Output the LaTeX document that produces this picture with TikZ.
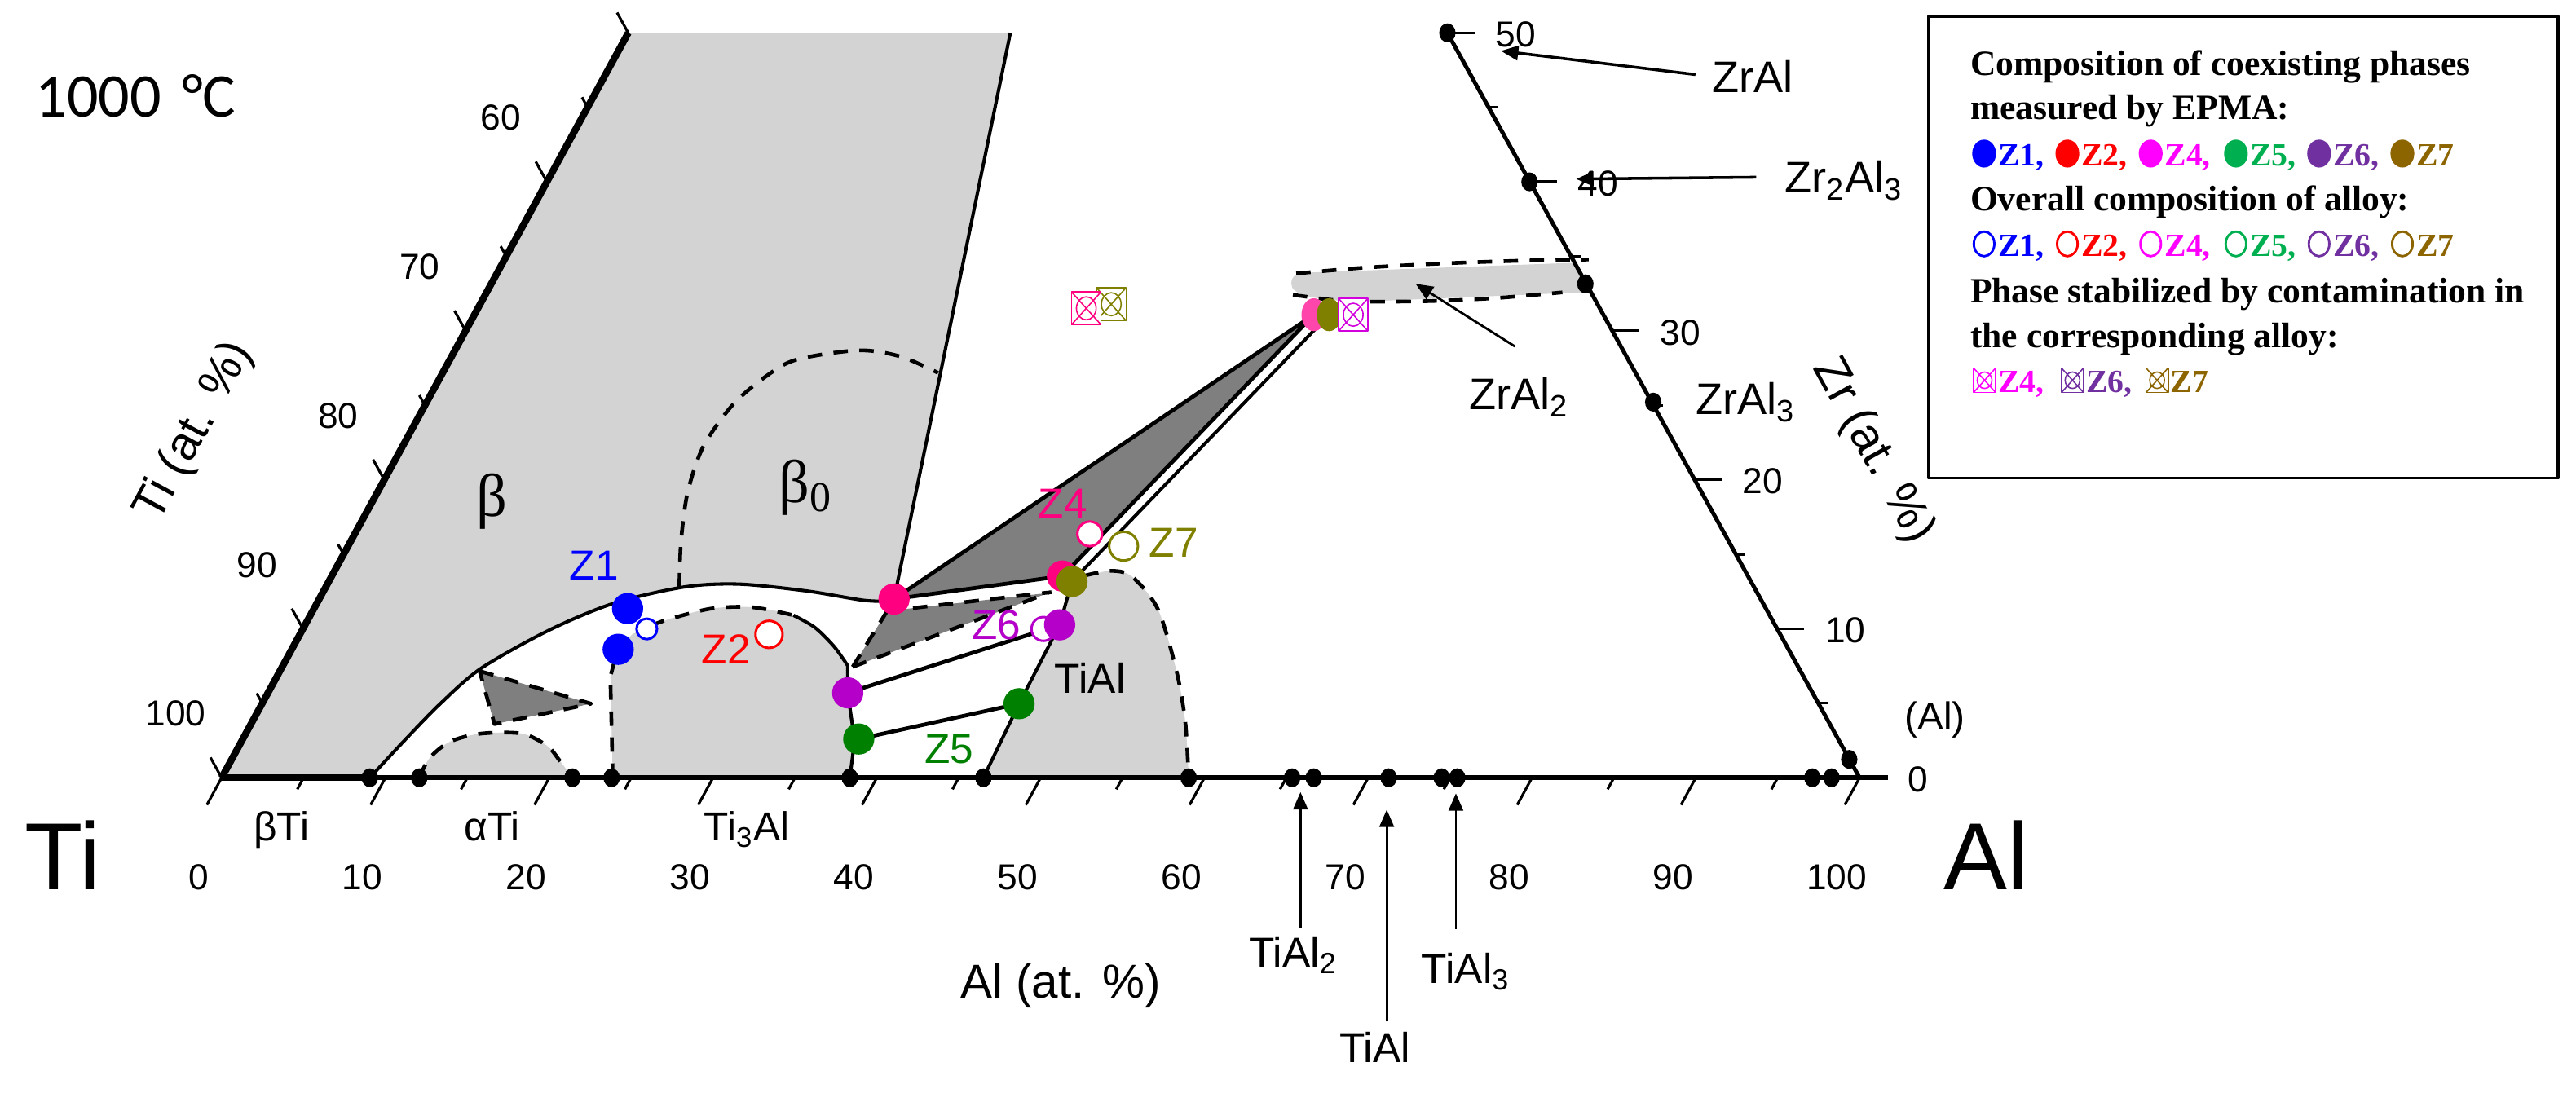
\documentclass[tikz,border=0pt]{standalone}
\usepackage{fontspec}
\setmainfont{Liberation Sans}
\newfontfamily\lserif{Liberation Serif}
\newfontfamily\lcalib{Carlito}
\usetikzlibrary{arrows.meta,shapes.geometric}
\definecolor{lgrey}{RGB}{211,211,211}
\definecolor{dgrey}{RGB}{127,127,127}
\definecolor{zblue}{RGB}{0,0,255}
\definecolor{zred}{RGB}{255,0,0}
\definecolor{zpink}{RGB}{255,0,128}
\definecolor{zpinkl}{RGB}{255,70,170}
\definecolor{zpurp}{RGB}{180,0,200}
\definecolor{zgreen}{RGB}{0,128,0}
\definecolor{zolive}{RGB}{128,128,0}
\definecolor{zmag}{RGB}{210,0,220}
\definecolor{lblue}{RGB}{0,0,255}
\definecolor{lred}{RGB}{255,0,0}
\definecolor{lmag}{RGB}{255,0,255}
\definecolor{lgreen}{RGB}{0,176,80}
\definecolor{lpurp}{RGB}{112,48,160}
\definecolor{lbrown}{RGB}{140,100,0}
\newcommand\fsz[1]{\fontsize{#1}{#1}\selectfont}
\begin{document}
\begin{tikzpicture}[x=0.02cm,y=-0.02cm,line join=round,
  bnd/.style={line width=1.15pt},
  thk/.style={line width=1.35pt},
  dsh/.style={line width=1.3pt,dash pattern=on 5pt off 4pt},
  tck/.style={line width=0.9pt},
  arr/.style={-{Triangle[length=6pt,width=5pt]},line width=0.8pt},
  dotf/.style={circle,fill=#1,inner sep=0pt,minimum size=0.38cm},
  dote/.style={ellipse,fill=#1,inner sep=0pt,minimum width=0.30cm,minimum height=0.40cm},
  doto/.style 2 args={circle,draw=#1,fill=white,line width=0.85pt,inner sep=0pt,minimum size=#2},
  adot/.style={ellipse,fill=black,inner sep=0pt,minimum width=0.2cm,minimum height=0.23cm},
  xsq/.style={rectangle,draw=#1,fill=white,line width=0.45pt,inner sep=0pt,minimum width=0.36cm,minimum height=0.40cm,
    path picture={\draw[#1,line width=0.45pt] (path picture bounding box.north west) -- (path picture bounding box.south east)
      (path picture bounding box.north east) -- (path picture bounding box.south west);
      \draw[#1,line width=0.45pt] (path picture bounding box.center) ellipse [x radius=0.12cm,y radius=0.14cm];}},
  lxsq/.style={rectangle,draw=#1,fill=white,line width=0.45pt,inner sep=0pt,minimum width=0.27cm,minimum height=0.30cm,
    path picture={\draw[#1,line width=0.45pt] (path picture bounding box.north west) -- (path picture bounding box.south east)
      (path picture bounding box.north east) -- (path picture bounding box.south west);
      \draw[#1,line width=0.45pt] (path picture bounding box.center) ellipse [x radius=0.09cm,y radius=0.10cm];}},
  ldot/.style={ellipse,fill=#1,inner sep=0pt,minimum width=0.29cm,minimum height=0.34cm},
  lodot/.style={ellipse,draw=#1,line width=0.8pt,inner sep=0pt,minimum width=0.25cm,minimum height=0.30cm},
  numlab/.style={font=\fsz{12.5},inner sep=0pt},
  cmp/.style={font=\fsz{15.3},inner sep=0pt,anchor=base west},
  zlab/.style={font=\fsz{14.5},inner sep=0pt,anchor=base west,text=#1},
  lgtxt/.style={font=\lserif\bfseries\fsz{12.3},inner sep=0pt,anchor=base west},
  lgz/.style={font=\lserif\bfseries\fsz{11.2},inner sep=0pt,anchor=base west,text=#1}]
\useasboundingbox (0,0) rectangle (1568,665);

% ---------- light grey regions ----------
\fill[lgrey] (134.9,473.5) -- plot[smooth] coordinates {(225.1,473.5) (246,451) (268,428.4) (292.8,406.9) (334.1,383.7) (373.8,367.2) (416.8,357.3) (449.9,355.6) (491.2,359.8) (526,365.5) (544,366)} -- (615,20) -- (382.4,20) -- cycle;
\fill[lgrey] plot[smooth] coordinates {(255.2,473.5) (261.5,461.5) (274,451.5) (292.8,446.6) (317.6,446.6) (333,454) (340.7,463.1) (348.5,473.5)} -- cycle;
\fill[lgrey] (373,473.5) -- (371.5,412) -- (376,395) -- plot[smooth] coordinates {(385,386) (407,377) (433,370.5) (458,369.7) (483,374.6) (496,382) (507.8,393.7) (516,405.3)} -- (516,421.8) -- (520.2,450.7) -- (517.3,473.5) -- cycle;
\fill[lgrey] (598.6,473.5) -- (620.3,428.4) -- (645,380.4) -- (652.5,354) -- plot[smooth] coordinates {(662,350.5) (676,347.5) (689,351) (704.8,370.9) (716.2,408.9) (721.5,440) (723.5,473.5)} -- cycle;
\fill[lgrey] (786,172.8) .. controls (786,167) and (790,166.2) .. (800,165.8) -- (958.4,160) -- (968.3,178) -- (951,178.5) -- (830,183.6) .. controls (798,183) and (786,179) .. (786,172.8) -- cycle;

% ---------- dark grey regions ----------
\fill[dgrey] (291.9,408.5) -- (359.8,428.4) -- (301,440.8) -- cycle;
\fill[dgrey] (544.2,364.7) -- (646.7,350.7) -- (799.7,191.6) -- cycle;
\fill[dgrey] (519,406) -- (540,372) -- (638,361) -- cycle;

% ---------- dashed boundaries ----------
\draw[dsh] (291.9,408.5) -- (359.8,428.4) -- (301,440.8) -- cycle;
\draw[dsh] plot[smooth] coordinates {(255.2,473.5) (261.5,461.5) (274,451.5) (292.8,446.6) (317.6,446.6) (333,454) (340.7,463.1) (348.5,473.5)};
\draw[dsh] (373,473.5) -- (371.5,412) -- (376,395);
\draw[dsh] plot[smooth] coordinates {(396,381) (407,377) (433,370.5) (458,369.7) (483,374.6)};
\draw[dsh] plot[smooth] coordinates {(413.5,357.6) (414.5,330) (418.5,300) (428,272) (445.5,247) (465,230) (484.6,219) (522.3,213.3) (548,217) (571,227)};
\draw[dsh] (519,406) -- (540,372);
\draw[dsh] (540,372) -- (640,360.5);
\draw[dsh] (519,406) -- (638,361);
\draw[dsh] plot[smooth] coordinates {(660,350.5) (676,347.5) (689,351) (704.8,370.9) (716.2,408.9) (721.5,440) (723.5,473.5)};
\draw[dsh] plot[smooth] coordinates {(789,166.5) (830,163) (880,160.3) (930,158.6) (967,158)};
\draw[dsh] plot[smooth] coordinates {(787,179.5) (810,182.5) (830,183.6) (870,183.3) (910,181.5) (951,178)};

% ---------- solid boundaries ----------
\draw[bnd] plot[smooth] coordinates {(225.1,473.5) (246,451) (268,428.4) (292.8,406.9) (334.1,383.7) (373.8,367.2) (416.8,357.3) (449.9,355.6) (491.2,359.8) (526,365.5) (544,366)};
\draw[bnd] plot[smooth] coordinates {(483,374.6) (496,382) (507.8,393.7) (516,405.3)} -- (516,421.8) -- (520.2,450.7) -- (517.3,473.5);
\draw[bnd] (544.2,364.7) -- (615,20);
\draw[thk] (544.2,364.7) -- (799.7,191.6) -- (646.7,350.7) -- cycle;
\draw[bnd] (652.5,354) -- (809,191.6);
\draw[thk] (516,421.8) -- (645,380.4);
\draw[thk] (522.7,449.9) -- (620.3,428.4);
\draw[bnd] (598.6,473.5) -- (620.3,428.4) -- (645,380.4) -- (652.5,354);

% ---------- axes ----------
\draw[line width=1.7pt] (134.9,473.5) -- (1149,473.5);
\draw[line width=2.4pt] (134.9,473.5) -- (225.1,473.5);
\draw[line width=2.4pt] (134.9,473.5) -- (382.4,20);
\draw[line width=1.4pt] (1131.9,473.5) -- (881,20);
\foreach \av in {0,10,...,100} \draw[tck] (134.9+9.97*\av,473.5) -- ++(-9,16.5);
\foreach \av in {5,15,...,95} \draw[tck] (134.9+9.97*\av,473.5) -- ++(-3.8,7);
\foreach \zv in {0,10,...,50} \draw[tck] (134.9+4.95*\zv,473.5-9.07*\zv) -- ++(-6.8,-12.3);
\foreach \zv in {5,15,...,45} \draw[tck] (134.9+4.95*\zv,473.5-9.07*\zv) -- ++(-3.4,-6.1);
\foreach \zv in {10,20,...,50} \draw[tck] (1131.9-5.02*\zv,473.5-9.07*\zv) -- ++(16.5,0);
\foreach \zv in {5,15,...,45} \draw[tck] (1131.9-5.02*\zv,473.5-9.07*\zv) -- ++(6,0);

\foreach \av in {0,10,...,100} \node[numlab,anchor=base] (bl\av) at (120.9+9.97*\av,541.7) {\av};
\foreach \tv/\zv in {60/40,70/30,80/20,90/10,100/0} \node[numlab] (tl\tv) at (134.9+4.95*\zv-28,473.5-9.07*\zv-39) {\tv};
\foreach \zv in {0,10,...,50} \node[numlab,anchor=west] (zl\zv) at (1131.9-5.02*\zv+29,473.5-9.07*\zv+1) {\zv};

% axis dots
\foreach \xv [count=\i] in {225.1,255.2,348.5,372.3,517.3,598.6,723.5,786.5,799.7,845.3,877.6,887,1103.2,1114.8}
  \node[adot] (ad\i) at (\xv,473.5) {};
\node[adot] (dZrAl) at (881,20) {};
\node[adot] (dZrtwoAl) at (931,110.7) {};
\node[adot] (dZrAltwo) at (965,172.8) {};
\node[adot] (dZrAlthree) at (1006.3,244.8) {};
\node[adot] (dAl) at (1125.6,462.3) {};

% ---------- data points ----------
\node[doto={zblue}{0.25cm}] (z1o) at (393.7,382.9) {};
\node[dotf=zblue] (z1a) at (382,370.5) {};
\node[dotf=zblue] (z1b) at (376.3,395.3) {};
\node[doto={zred}{0.33cm}] (z2o) at (468.1,386.2) {};
\node[dotf=zpink] (z4a) at (544.2,364.7) {};
\node[dotf=zpink] (z4b) at (646.7,350.7) {};
\node[dotf=zolive] (z7a) at (652.5,354) {};
\node[doto={zpink}{0.30cm}] (z4o) at (663.3,325) {};
\node[doto={zolive}{0.35cm}] (z7o) at (683.9,332.5) {};
\node[doto={zpurp}{0.29cm}] (z6o) at (635.1,382.9) {};
\node[dotf=zpurp] (z6a) at (645,380.4) {};
\node[dotf=zpurp] (z6b) at (516,421.8) {};
\node[dotf=zgreen] (z5a) at (522.7,449.9) {};
\node[dotf=zgreen] (z5b) at (620.3,428.4) {};
\node[dote=zpinkl] (z4t) at (799.7,191.6) {};
\node[dote=zolive] (z7t) at (809,191.6) {};
\node[xsq=zmag] (x6t) at (823.7,191.6) {};
\node[xsq=zolive] (x7) at (676.4,185.2) {};
\node[xsq=zpink] (x4) at (661.2,187.7) {};

% ---------- arrows ----------
\coordinate (aZrAlT) at (1032,45.4);   \coordinate (aZrAlH) at (913.6,31);
\coordinate (aZrtwoT) at (1069,107.9); \coordinate (aZrtwoH) at (959.4,109);
\coordinate (aZrAltwoT) at (922.1,210.9); \coordinate (aZrAltwoH) at (861.7,172.8);
\coordinate (aTiAltwoT) at (791.6,564.9); \coordinate (aTiAltwoH) at (791.6,482.2);
\coordinate (aTiAlT) at (844.1,621.9); \coordinate (aTiAlH) at (844.1,492.9);
\coordinate (aTiAlthreeT) at (886.2,565.7); \coordinate (aTiAlthreeH) at (886.2,483);
\draw[arr,line width=1pt] (aZrAlT) -- (aZrAlH);
\draw[arr,line width=1pt] (aZrtwoT) -- (aZrtwoH);
\draw[arr] (aZrAltwoT) -- (aZrAltwoH);
\draw[arr] (aTiAltwoT) -- (aTiAltwoH);
\draw[arr] (aTiAlT) -- (aTiAlH);
\draw[arr] (aTiAlthreeT) -- (aTiAlthreeH);

% ---------- labels ----------
\node[font=\lcalib\fsz{21.5},inner sep=0pt] (temp) at (82.6,58.5) {1000\,\,°C};
\node[font=\fsz{33},inner sep=0pt] (lTi) at (38,520.6) {Ti};
\node[font=\fsz{33},inner sep=0pt] (lAl) at (1209,520.6) {Al};
\node[font=\fsz{16.5},inner sep=0pt] (axAl) at (645.6,600) {Al (at. \%)};
\node[font=\fsz{16.5},inner sep=0pt,rotate=61.4] (axTi) at (118.4,262.7) {Ti (at. \%)};
\node[font=\fsz{16.5},inner sep=0pt,rotate=-61] (axZr) at (1140,274.6) {Zr (at. \%)};
\node[font=\fsz{13.5},inner sep=0pt] (lAlss) at (1177.7,438.3) {(Al)};
\node[font=\fsz{14},inner sep=0pt,anchor=base] (lbTi) at (171.3,512) {βTi};
\node[font=\fsz{14},inner sep=0pt,anchor=base] (laTi) at (299.5,512) {αTi};
\node[font=\fsz{14},inner sep=0pt,anchor=base] (lTithree) at (454.5,512) {Ti\textsubscript{3}Al};
\node[font=\lserif\fsz{21},inner sep=0pt] (lbeta) at (299.4,305.4) {β};
\node[font=\lserif\fsz{21},inner sep=0pt,anchor=west] (lbetao) at (474,297) {β\textsubscript{0}};
\node[cmp] (lZrAl) at (1042,56.5) {ZrAl};
\node[cmp] (lZrtwo) at (1086,117.4) {Zr\textsubscript{2}Al\textsubscript{3}};
\node[cmp] (lZrAlthree) at (1032,252.5) {ZrAl\textsubscript{3}};
\node[cmp] (lZrAltwo) at (893.8,249.2) {ZrAl\textsubscript{2}};
\node[cmp,font=\fsz{14.5}] (lTiAltwo) at (760,588.8) {TiAl\textsubscript{2}};
\node[cmp,font=\fsz{14.5}] (lTiAlb) at (815,646.7) {TiAl};
\node[cmp,font=\fsz{14.5}] (lTiAlthree) at (865,598.8) {TiAl\textsubscript{3}};
\node[cmp,font=\fsz{14.5}] (lTiAl) at (641.7,421.8) {TiAl};
\node[zlab=zblue] (tZ1) at (346.4,352.9) {Z1};
\node[zlab=zred] (tZ2) at (426.7,404.4) {Z2};
\node[zlab=zpink] (tZ4) at (631.8,315.1) {Z4};
\node[zlab=zolive] (tZ7) at (699.2,339.1) {Z7};
\node[zlab=zpurp] (tZ6) at (591.3,389.5) {Z6};
\node[zlab=zgreen] (tZ5) at (562.4,464.8) {Z5};

% ---------- legend ----------
\draw[line width=1pt] (1174,10) rectangle (1557,291);
\node[lgtxt] (lg1) at (1199,46) {Composition of coexisting phases};
\node[lgtxt] (lg2) at (1199,72.7) {measured by EPMA:};
\node[lgtxt] (lg4) at (1199,128.5) {Overall composition of alloy:};
\node[lgtxt] (lg6) at (1199,184.3) {Phase stabilized by contamination in};
\node[lgtxt] (lg7) at (1199,211.8) {the corresponding alloy:};
\foreach \xv/\cc/\zt [count=\i] in {1200/lblue/Z1,1250.7/lred/Z2,1301.4/lmag/Z4,1353.3/lgreen/Z5,1403.9/lpurp/Z6,1454.6/lbrown/Z7}{
  \node[ldot=\cc] (lf\i) at (\xv+7.7,93.5) {};
  \node[lgz=\cc] (lft\i) at (\xv+16,101) {\zt\ifnum\i<6,\fi};
  \node[lodot=\cc] (lo\i) at (\xv+7.7,148.5) {};
  \node[lgz=\cc] (lot\i) at (\xv+16,156) {\zt\ifnum\i<6,\fi};
}
\foreach \xv/\cc/\zt [count=\i] in {1201/lmag/Z4,1254.5/lpurp/Z6,1306/lbrown/Z7}{
  \node[lxsq=\cc] (lx\i) at (\xv+7,231.5) {};
  \node[lgz=\cc] (lxt\i) at (\xv+15,239) {\zt\ifnum\i<3,\fi};
}
\end{tikzpicture}
\end{document}
